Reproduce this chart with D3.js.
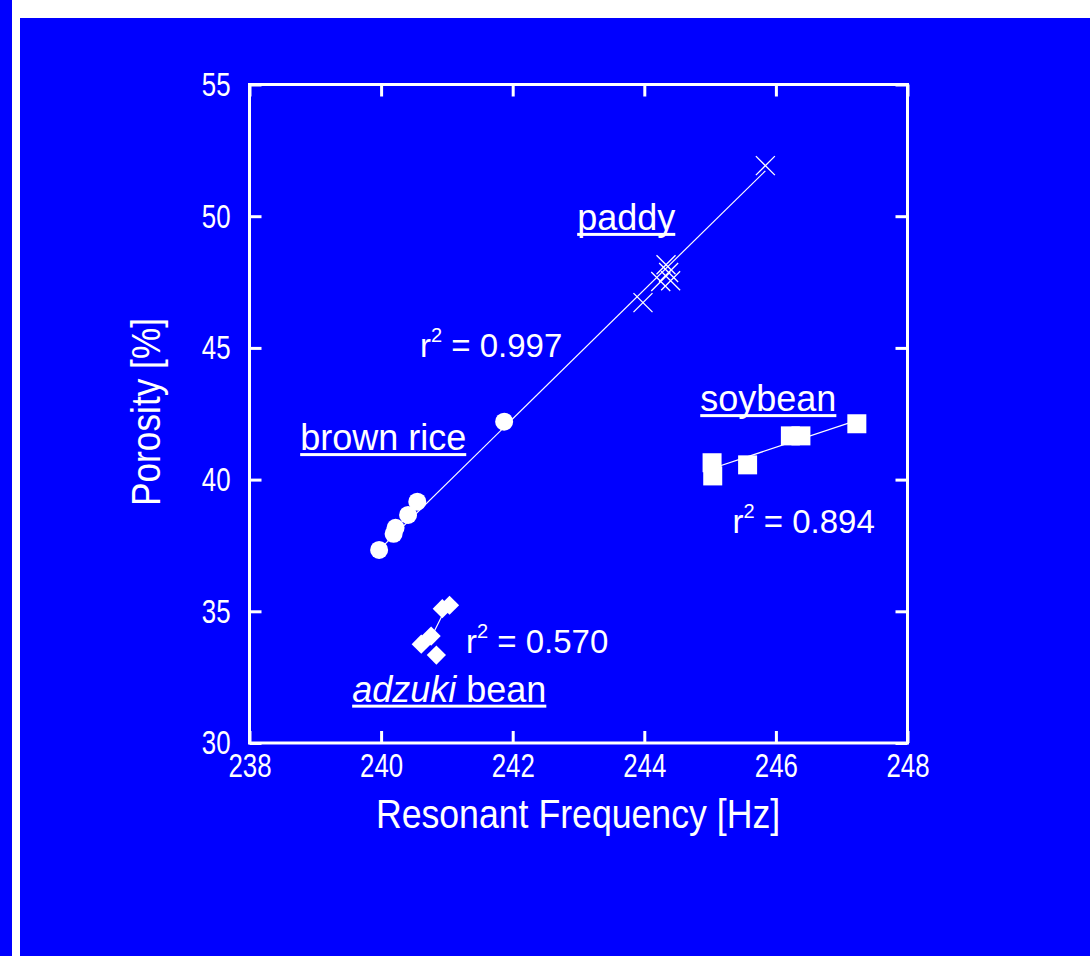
<!DOCTYPE html>
<html>
<head>
<meta charset="utf-8">
<script src="https://cdn.jsdelivr.net/npm/d3@7"></script>
<style>
  html, body { margin: 0; padding: 0; background: #0000ff; }
  svg { display: block; }
</style>
</head>
<body>
<div id="chart"></div>
<script>
// data
const paddyFreq = [245.84, 244.33, 244.37, 244.40, 244.25, 243.98];
const paddyPor  = [51.92, 48.16, 47.86, 47.55, 47.52, 46.72];
const brownFreq = [239.97, 240.19, 240.22, 240.41, 240.55, 241.87];
const brownPor  = [37.33, 37.94, 38.17, 38.66, 39.16, 42.20];
const soyFreq   = [245.03, 245.04, 245.57, 246.22, 246.38, 247.23];
const soyPor    = [40.64, 40.14, 40.56, 41.66, 41.66, 42.12];
const adzFreq   = [240.93, 241.04, 240.61, 240.76, 240.84];
const adzPor    = [35.10, 35.23, 33.75, 34.06, 33.34];

// regression lines (end points as seen)
const riceFit = [[239.97, 37.33], [245.84, 51.72]];
const soyFit  = [[245.03, 40.42], [247.23, 42.25]];
const adzFit  = [[240.73, 33.85], [241.00, 35.20]];

const xTicks = [238, 240, 242, 244, 246, 248];
const yTicks = [30, 35, 40, 45, 50, 55];

const W = 1090, H = 956;
const font = "'Liberation Sans', Arial, sans-serif";
const narrow = 0.76;   // the tick font is a condensed face

const svg = d3.select("#chart").append("svg")
    .attr("width", W).attr("height", H);

// background: blue with white strips at left and top
svg.append("rect").attr("width", W).attr("height", H).attr("fill", "#0000ff");
svg.append("rect").attr("x", 12).attr("y", 0).attr("width", W - 12).attr("height", 18).attr("fill", "#fff");
svg.append("rect").attr("x", 12).attr("y", 0).attr("width", 8).attr("height", H).attr("fill", "#fff");

const x = d3.scaleLinear().domain([238, 248]).range([249.5, 907.5]);
const y = d3.scaleLinear().domain([30, 55]).range([743, 84.5]);

const g = svg.append("g");

function styleAxis(sel) {
    sel.select(".domain").remove();
    sel.selectAll(".tick line").attr("stroke", "#fff").attr("stroke-width", 3);
    sel.selectAll(".tick text").attr("fill", "#fff")
        .attr("font-family", font).attr("font-size", 34);
}

g.append("g").attr("transform", `translate(0,${y(30)})`)
    .call(d3.axisBottom(x).tickValues(xTicks).tickSize(-12).tickPadding(10).tickFormat(d3.format("d")))
    .call(styleAxis)
    .call(s => s.selectAll(".tick text").attr("transform", `scale(${narrow},1)`));
g.append("g").attr("transform", `translate(0,${y(55)})`)
    .call(d3.axisTop(x).tickValues(xTicks).tickSize(-12).tickFormat(""))
    .call(styleAxis);
g.append("g").attr("transform", `translate(${x(238)},0)`)
    .call(d3.axisLeft(y).tickValues(yTicks).tickSize(-12).tickFormat(d3.format("d")))
    .call(styleAxis)
    .call(s => s.selectAll(".tick text")
        .attr("x", -19 / narrow)
        .attr("transform", `scale(${narrow},1)`));
g.append("g").attr("transform", `translate(${x(248)},0)`)
    .call(d3.axisRight(y).tickValues(yTicks).tickSize(-12).tickFormat(""))
    .call(styleAxis);

// frame
g.append("rect")
    .attr("x", x(238)).attr("y", y(55))
    .attr("width", x(248) - x(238)).attr("height", y(30) - y(55))
    .attr("fill", "none").attr("stroke", "#fff").attr("stroke-width", 3);

// axis titles
svg.append("text")
    .attr("transform", `translate(578,828) scale(0.87,1)`)
    .attr("text-anchor", "middle")
    .attr("font-family", font).attr("font-size", 41).attr("fill", "#fff")
    .text("Resonant Frequency [Hz]");
svg.append("text")
    .attr("transform", `translate(160,412) rotate(-90) scale(0.86,1)`)
    .attr("text-anchor", "middle")
    .attr("font-family", font).attr("font-size", 41).attr("fill", "#fff")
    .text("Porosity [%]");

// fit lines
const line = d3.line().x(d => x(d[0])).y(d => y(d[1]));
[riceFit, soyFit, adzFit].forEach(f => {
    g.append("path").attr("d", line(f))
        .attr("fill", "none").attr("stroke", "#fff").attr("stroke-width", 1.2);
});

// markers
const zip = (a, b) => a.map((v, i) => [v, b[i]]);

g.selectAll(".cross").data(zip(paddyFreq, paddyPor)).enter()
    .append("path").attr("class", "cross")
    .attr("d", d => {
        const cx = x(d[0]), cy = y(d[1]), r = 9.5;
        return `M${cx - r},${cy - r}L${cx + r},${cy + r}M${cx - r},${cy + r}L${cx + r},${cy - r}`;
    })
    .attr("stroke", "#fff").attr("stroke-width", 1.3).attr("fill", "none");

g.selectAll(".dot").data(zip(brownFreq, brownPor)).enter()
    .append("circle").attr("class", "dot")
    .attr("cx", d => x(d[0])).attr("cy", d => y(d[1])).attr("r", 9)
    .attr("fill", "#fff");

g.selectAll(".sq").data(zip(soyFreq, soyPor)).enter()
    .append("rect").attr("class", "sq")
    .attr("x", d => x(d[0]) - 9.5).attr("y", d => y(d[1]) - 9.5)
    .attr("width", 19).attr("height", 19)
    .attr("fill", "#fff");

g.selectAll(".dia").data(zip(adzFreq, adzPor)).enter()
    .append("rect").attr("class", "dia")
    .attr("x", -6.8).attr("y", -6.8).attr("width", 13.6).attr("height", 13.6)
    .attr("transform", d => `translate(${x(d[0])},${y(d[1])}) rotate(45)`)
    .attr("fill", "#fff");

// annotations
function label(fx, fy, parts, underline) {
    const t = svg.append("text")
        .attr("x", x(fx)).attr("y", y(fy))
        .attr("font-family", font).attr("font-size", 36).attr("fill", "#fff");
    parts.forEach(p => {
        t.append("tspan").attr("font-style", p.italic ? "italic" : null).text(p.text);
    });
    if (underline) {
        const w = t.node().getComputedTextLength();
        svg.append("rect")
            .attr("x", x(fx)).attr("y", y(fy) + 3)
            .attr("width", w).attr("height", 3)
            .attr("fill", "#fff");
    }
}

function rsq(fx, fy, val) {
    const t = svg.append("text")
        .attr("x", x(fx)).attr("y", y(fy))
        .attr("font-family", font).attr("font-size", 33).attr("fill", "#fff");
    t.append("tspan").text("r");
    t.append("tspan").attr("font-size", 20).attr("dy", -15).text("2");
    t.append("tspan").attr("dy", 15).text(" = " + val);
}

label(242.98, 49.48, [{ text: "paddy" }], true);
label(238.77, 41.12, [{ text: "brown rice" }], true);
label(244.85, 42.60, [{ text: "soybean" }], true);
label(239.56, 31.57, [{ text: "adzuki", italic: true }, { text: " bean" }], true);

rsq(240.59, 44.65, "0.997");
rsq(245.34, 37.97, "0.894");
rsq(241.29, 33.42, "0.570");
</script>
</body>
</html>
